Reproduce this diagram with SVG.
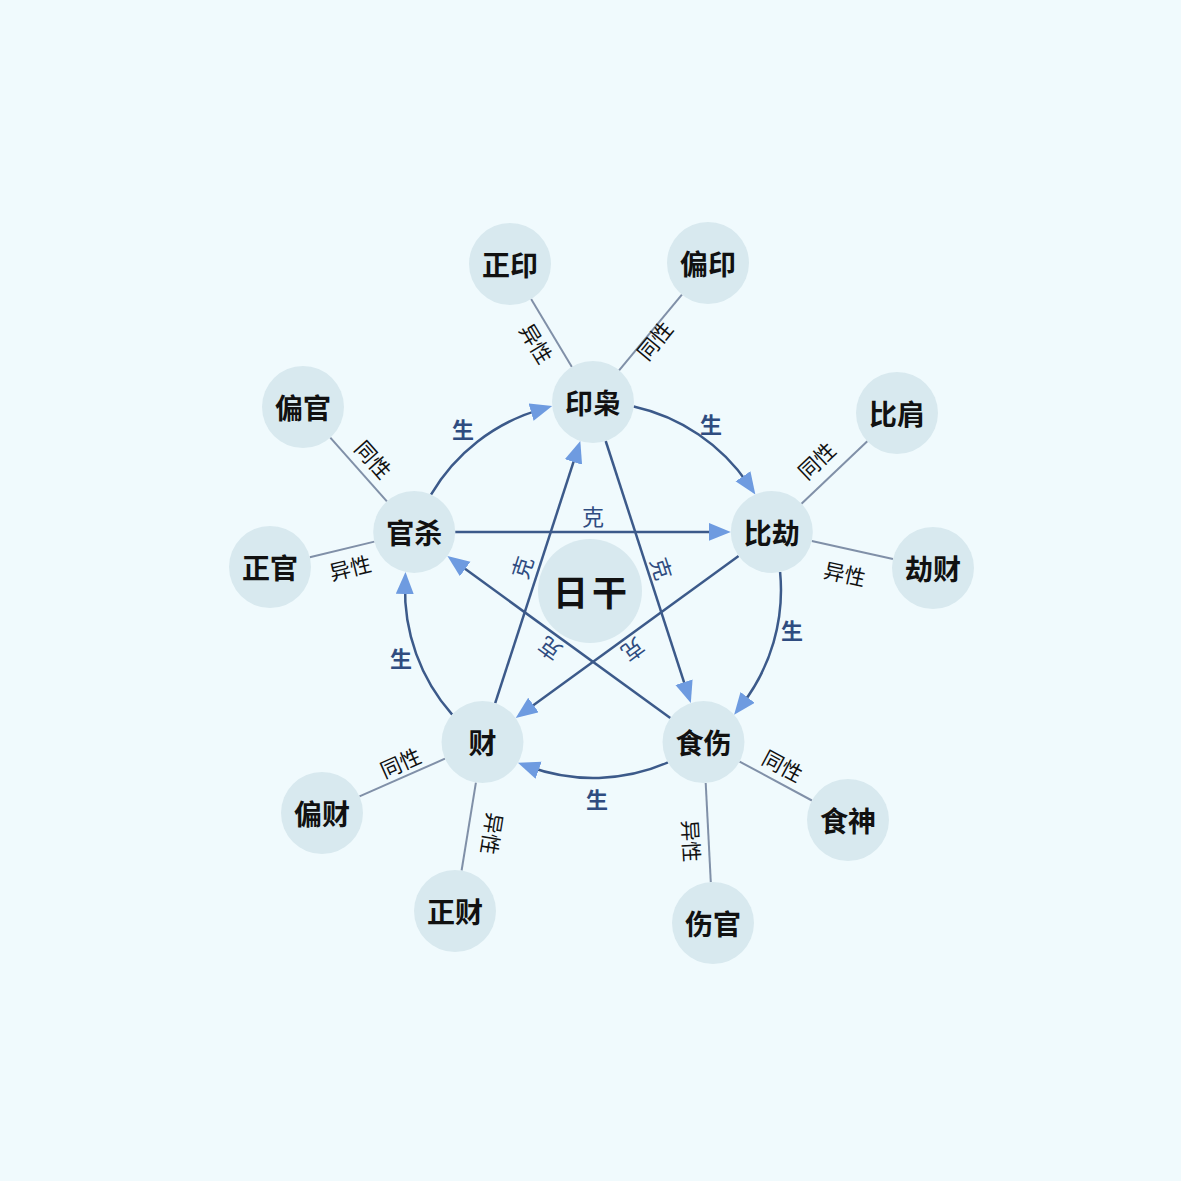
<svg xmlns="http://www.w3.org/2000/svg" width="1181" height="1181" viewBox="0 0 1181 1181">
<style>
.bg{fill:#f0fafd}
.node circle{fill:#d8e9ef}
.node text{font-family:"Noto Sans CJK SC","Noto Sans",sans-serif;font-weight:700;font-size:28px;fill:#111;text-anchor:middle;dominant-baseline:central}
.main{fill:none;stroke:#3c5a8a;stroke-width:2.5;marker-end:url(#arr)}
.sub{stroke:#8090a8;stroke-width:2;fill:none}
.sheng{font-family:"Noto Sans CJK SC",sans-serif;font-weight:700;font-size:22px;fill:#2f4c80;text-anchor:middle;dominant-baseline:central}
.ke{font-family:"Noto Sans CJK SC",sans-serif;font-weight:400;font-size:22px;fill:#2f4c80;text-anchor:middle;dominant-baseline:central}
.rel{font-family:"Noto Sans CJK SC",sans-serif;font-weight:400;font-size:21px;fill:#111;text-anchor:middle;dominant-baseline:central}
</style>
<defs>
<marker id="arr" markerUnits="userSpaceOnUse" markerWidth="24" markerHeight="20" refX="10" refY="9" orient="auto">
<path d="M0,0 L22,9 L0,18 z" fill="#6e9be0"/>
</marker>
</defs>
<rect class="bg" x="0" y="0" width="1181" height="1181"/>
<g id="connectors">
<g id="sheng-arcs">
<path class="main" d="M431.0,494.6 A188,188 0 0 1 540.7,409.4"/>
<path class="main" d="M633.7,406.5 A188,188 0 0 1 748.6,484.5"/>
<path class="main" d="M780.1,572.0 A188,188 0 0 1 741.5,705.3"/>
<path class="main" d="M668.0,762.4 A188,188 0 0 1 529.2,766.8"/>
<path class="main" d="M452.2,714.6 A188,188 0 0 1 405.1,584.0"/>
</g>
<g id="ke-lines">
<path class="main" d="M455.2,531.9 L718.8,531.9"/>
<path class="main" d="M738.6,556.0 L525.4,710.9"/>
<path class="main" d="M495.2,703.1 L576.6,452.4"/>
<path class="main" d="M605.7,441.0 L687.1,691.7"/>
<path class="main" d="M670.3,718.0 L457.1,563.1"/>
</g>
<g id="sub-lines">
<line class="sub" x1="571.9" y1="366.9" x2="531.1" y2="299.1"/>
<line class="sub" x1="619.1" y1="370.4" x2="681.9" y2="294.6"/>
<line class="sub" x1="330.3" y1="437.6" x2="386.9" y2="501.3"/>
<line class="sub" x1="309.8" y1="557.3" x2="374.4" y2="541.6"/>
<line class="sub" x1="801.5" y1="503.7" x2="867.3" y2="441.2"/>
<line class="sub" x1="811.8" y1="540.9" x2="893.0" y2="559.0"/>
<line class="sub" x1="359.5" y1="796.4" x2="445.0" y2="758.7"/>
<line class="sub" x1="475.9" y1="782.6" x2="461.6" y2="870.5"/>
<line class="sub" x1="739.6" y1="761.6" x2="811.9" y2="800.5"/>
<line class="sub" x1="705.7" y1="783.0" x2="710.8" y2="882.1"/>
</g>
<g id="labels">
<text class="sheng" x="463" y="428">生</text>
<text class="sheng" x="711" y="423">生</text>
<text class="sheng" x="792" y="629">生</text>
<text class="sheng" x="597" y="798">生</text>
<text class="sheng" x="401" y="657">生</text>
<text class="ke" x="593" y="515">克</text>
<text class="ke" transform="translate(521,567) rotate(-72)">克</text>
<text class="ke" transform="translate(663,568) rotate(72)">克</text>
<text class="ke" transform="translate(634,651) rotate(144)">克</text>
<text class="ke" transform="translate(549,650) rotate(216)">克</text>
<text class="rel" transform="translate(537,343) rotate(59)">异性</text>
<text class="rel" transform="translate(654,340) rotate(-50.4)">同性</text>
<text class="rel" transform="translate(374,459) rotate(48.3)">同性</text>
<text class="rel" transform="translate(350,567) rotate(-13.7)">异性</text>
<text class="rel" transform="translate(816,460) rotate(-43.5)">同性</text>
<text class="rel" transform="translate(845,573) rotate(12.6)">异性</text>
<text class="rel" transform="translate(400,762) rotate(-23.8)">同性</text>
<text class="rel" transform="translate(493,834) rotate(99.2)">异性</text>
<text class="rel" transform="translate(783,765) rotate(28.3)">同性</text>
<text class="rel" transform="translate(692,841) rotate(87)">异性</text>
</g>
</g>
<g id="node-rigan" class="node"><circle cx="590" cy="591" r="52"/><text x="592" y="590" style="font-size:35px;letter-spacing:4px">日干</text></g>
<g id="node-yinxiao" class="node"><circle cx="593" cy="402" r="41"/><text x="593" y="402">印枭</text></g>
<g id="node-bijie" class="node"><circle cx="771.8" cy="531.9" r="41"/><text x="771.8" y="531.9">比劫</text></g>
<g id="node-shishang" class="node"><circle cx="703.5" cy="742.1" r="41"/><text x="703.5" y="742.1">食伤</text></g>
<g id="node-cai" class="node"><circle cx="482.5" cy="742.1" r="41"/><text x="482.5" y="742.1">财</text></g>
<g id="node-guansha" class="node"><circle cx="414.2" cy="531.9" r="41"/><text x="414.2" y="531.9">官杀</text></g>
<g id="node-zhengyin" class="node"><circle cx="510" cy="264" r="41"/><text x="510" y="264">正印</text></g>
<g id="node-pianyin" class="node"><circle cx="708" cy="263" r="41"/><text x="708" y="263">偏印</text></g>
<g id="node-pianguan" class="node"><circle cx="303" cy="407" r="41"/><text x="303" y="407">偏官</text></g>
<g id="node-zhengguan" class="node"><circle cx="270" cy="567" r="41"/><text x="270" y="567">正官</text></g>
<g id="node-bijian" class="node"><circle cx="897" cy="413" r="41"/><text x="897" y="413">比肩</text></g>
<g id="node-jiecai" class="node"><circle cx="933" cy="568" r="41"/><text x="933" y="568">劫财</text></g>
<g id="node-piancai" class="node"><circle cx="322" cy="813" r="41"/><text x="322" y="813">偏财</text></g>
<g id="node-zhengcai" class="node"><circle cx="455" cy="911" r="41"/><text x="455" y="911">正财</text></g>
<g id="node-shishen" class="node"><circle cx="848" cy="820" r="41"/><text x="848" y="820">食神</text></g>
<g id="node-shangguan" class="node"><circle cx="713" cy="923" r="41"/><text x="713" y="923">伤官</text></g>
</svg>
